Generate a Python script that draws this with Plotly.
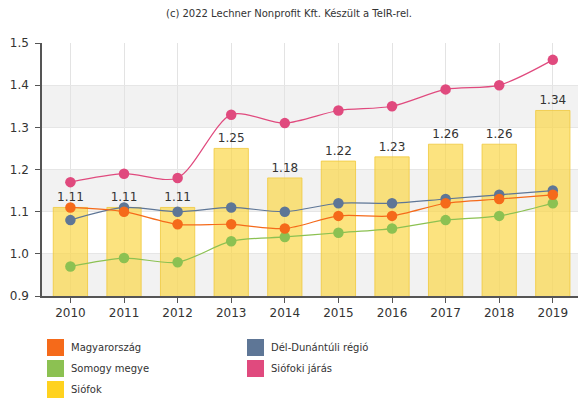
import plotly.graph_objects as go

years = ["2010", "2011", "2012", "2013", "2014", "2015", "2016", "2017", "2018", "2019"]

siofok = [1.11, 1.11, 1.11, 1.25, 1.18, 1.22, 1.23, 1.26, 1.26, 1.34]
magyarorszag = [1.11, 1.10, 1.07, 1.07, 1.06, 1.09, 1.09, 1.12, 1.13, 1.14]
del_dunantul = [1.08, 1.11, 1.10, 1.11, 1.10, 1.12, 1.12, 1.13, 1.14, 1.15]
somogy = [0.97, 0.99, 0.98, 1.03, 1.04, 1.05, 1.06, 1.08, 1.09, 1.12]
siofoki_jaras = [1.17, 1.19, 1.18, 1.33, 1.31, 1.34, 1.35, 1.39, 1.40, 1.46]

y_ticks = [0.9, 1.0, 1.1, 1.2, 1.3, 1.4, 1.5]

FONT = "Verdana, DejaVu Sans, sans-serif"
C_ORANGE = "#F56A1A"
C_BLUE = "#5E7696"
C_GREEN = "#8CC152"
C_PINK = "#E04A7E"
C_YELLOW = "#FFD21F"

xi = list(range(len(years)))

fig = go.Figure()

# Siófok bars with value labels
fig.add_trace(go.Bar(
    x=xi, y=siofok, base=0,
    width=0.64,
    marker=dict(color="rgba(250,212,60,0.66)", line=dict(color="rgba(240,200,60,0.8)", width=1)),
    text=[f"{v:.2f}" for v in siofok],
    textposition="outside",
    textfont=dict(family=FONT, size=12, color="#333333"),
    cliponaxis=False,
    name="Siófok",
))

series = [
    ("Dél-Dunántúli régió", del_dunantul, C_BLUE),
    ("Somogy megye", somogy, C_GREEN),
    ("Magyarország", magyarorszag, C_ORANGE),
    ("Siófoki járás", siofoki_jaras, C_PINK),
]
for name, vals, col in series:
    fig.add_trace(go.Scatter(
        x=xi, y=vals, name=name,
        mode="lines+markers",
        line=dict(color=col, width=1.2, shape="spline", smoothing=0.8),
        marker=dict(color=col, size=10.5),
    ))

# alternating horizontal bands
shapes = []
for lo in [0.9, 1.1, 1.3]:
    shapes.append(dict(type="rect", xref="paper", yref="y", x0=0, x1=1, y0=lo, y1=lo + 0.1,
                       fillcolor="#F2F2F2", line=dict(width=0), layer="below"))

# legend drawn as colour squares with labels
legend_items = [
    ("Magyarország", C_ORANGE, 47, 339),
    ("Somogy megye", C_GREEN, 47, 360),
    ("Siófok", C_YELLOW, 47, 381),
    ("Dél-Dunántúli régió", C_BLUE, 247, 339),
    ("Siófoki járás", C_PINK, 247, 360),
]
W, H = 578, 401
annotations = []
for label, col, px, py in legend_items:
    shapes.append(dict(type="rect", xref="paper", yref="paper",
                       x0=(px - 42) / 536, x1=(px + 17 - 42) / 536,
                       y0=(296 - (py + 17)) / 253, y1=(296 - py) / 253,
                       fillcolor=col, line=dict(width=0)))
    annotations.append(dict(xref="paper", yref="paper",
                            x=(px + 22 - 42) / 536, y=(296 - (py + 8.5)) / 253,
                            text=label, showarrow=False, xanchor="left", yanchor="middle",
                            font=dict(family=FONT, size=10, color="#333333")))

annotations.append(dict(xref="paper", yref="paper", x=(289 - 42) / 536, y=(296 - 13) / 253,
                        text="(c) 2022 Lechner Nonprofit Kft. Készült a TeIR-rel.",
                        showarrow=False, xanchor="center", yanchor="middle",
                        font=dict(family=FONT, size=10, color="#333333")))

fig.update_layout(
    width=W, height=H,
    margin=dict(l=42, r=0, t=43, b=105),
    paper_bgcolor="white", plot_bgcolor="white",
    showlegend=False,
    shapes=shapes,
    annotations=annotations,
    font=dict(family=FONT, size=12, color="#333333"),
    xaxis=dict(
        range=[-0.53, 9.47],
        tickmode="array", tickvals=xi, ticktext=years,
        showgrid=True, gridcolor="#E3E3E3", gridwidth=1,
        showline=True, linecolor="#555555", linewidth=1.5,
        ticks="outside", ticklen=5, tickcolor="#555555",
        tickfont=dict(family=FONT, size=12, color="#333333"),
        zeroline=False,
    ),
    yaxis=dict(
        range=[0.9, 1.5],
        tickmode="array", tickvals=y_ticks, ticktext=[f"{v:.1f}" for v in y_ticks],
        showgrid=True, gridcolor="#E6E6E6", gridwidth=1,
        showline=True, linecolor="#555555", linewidth=1.5,
        ticks="outside", ticklen=5, tickcolor="#555555",
        ticklabelstandoff=4,
        tickfont=dict(family=FONT, size=12, color="#333333"),
        zeroline=False,
    ),
)

fig.write_html("out.html")
